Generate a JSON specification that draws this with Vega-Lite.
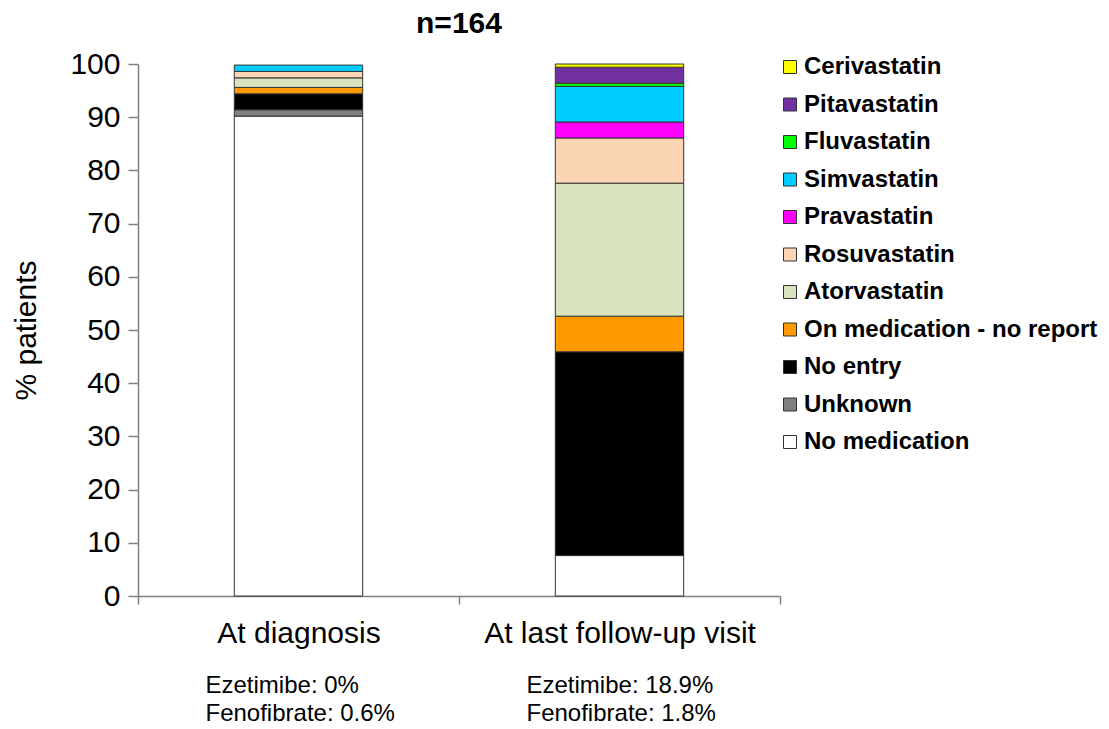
{
  "$schema": "https://vega.github.io/schema/vega-lite/v6.json",
  "autosize": "none",
  "width": 642,
  "height": 532,
  "padding": {"left": 138, "top": 64, "right": 329, "bottom": 133},
  "background": "white",
  "config": {
    "font": "Liberation Sans",
    "view": {"stroke": null}
  },
  "title": {
    "text": "n=164",
    "font": "Liberation Sans",
    "fontSize": 30,
    "fontWeight": "bold",
    "color": "black",
    "anchor": "middle",
    "offset": 10
  },
  "datasets": {
    "bars": [
      {"stage": "At diagnosis", "category": "No medication", "pct": 90.2},
      {"stage": "At diagnosis", "category": "Unknown", "pct": 1.2},
      {"stage": "At diagnosis", "category": "No entry", "pct": 3.0},
      {"stage": "At diagnosis", "category": "On medication - no report", "pct": 1.2},
      {"stage": "At diagnosis", "category": "Atorvastatin", "pct": 1.8},
      {"stage": "At diagnosis", "category": "Rosuvastatin", "pct": 1.2},
      {"stage": "At diagnosis", "category": "Simvastatin", "pct": 1.2},
      {"stage": "At last follow-up visit", "category": "No medication", "pct": 7.6},
      {"stage": "At last follow-up visit", "category": "No entry", "pct": 38.3},
      {"stage": "At last follow-up visit", "category": "On medication - no report", "pct": 6.7},
      {"stage": "At last follow-up visit", "category": "Atorvastatin", "pct": 25.0},
      {"stage": "At last follow-up visit", "category": "Rosuvastatin", "pct": 8.5},
      {"stage": "At last follow-up visit", "category": "Pravastatin", "pct": 3.0},
      {"stage": "At last follow-up visit", "category": "Simvastatin", "pct": 6.7},
      {"stage": "At last follow-up visit", "category": "Fluvastatin", "pct": 0.6},
      {"stage": "At last follow-up visit", "category": "Pitavastatin", "pct": 3.0},
      {"stage": "At last follow-up visit", "category": "Cerivastatin", "pct": 0.6}
    ],
    "notes": [
      {"stage": "At diagnosis", "note": ["Ezetimibe: 0%", "Fenofibrate: 0.6%"]},
      {"stage": "At last follow-up visit", "note": ["Ezetimibe: 18.9%", "Fenofibrate: 1.8%"]}
    ]
  },
  "layer": [
    {
      "data": {"name": "bars"},
      "transform": [
        {"calculate": "indexof(['No medication','Unknown','No entry','On medication - no report','Atorvastatin','Rosuvastatin','Pravastatin','Simvastatin','Fluvastatin','Pitavastatin','Cerivastatin'], datum.category)", "as": "stackOrder"}
      ],
      "mark": {"type": "bar", "stroke": "#333333", "strokeWidth": 1, "width": {"band": 0.4}},
      "encoding": {
        "x": {
          "field": "stage",
          "type": "nominal",
          "sort": ["At diagnosis", "At last follow-up visit"],
          "scale": {"paddingInner": 0, "paddingOuter": 0},
          "axis": {
            "title": null,
            "labelAngle": 0,
            "labelFont": "Liberation Sans",
            "labelFontSize": 30,
            "labelColor": "black",
            "labelLimit": 500,
            "labelPadding": 14,
            "domainColor": "#808080",
            "domainWidth": 1.5,
            "tickColor": "#808080",
            "tickWidth": 1.5,
            "tickSize": 8,
            "tickBand": "extent",
            "grid": false
          }
        },
        "y": {
          "field": "pct",
          "type": "quantitative",
          "stack": "zero",
          "scale": {"domain": [0, 100], "nice": false},
          "axis": {
            "title": "% patients",
            "titleFont": "Liberation Sans",
            "titleFontSize": 30,
            "titleFontWeight": "normal",
            "titleColor": "black",
            "titlePadding": 28,
            "values": [0, 10, 20, 30, 40, 50, 60, 70, 80, 90, 100],
            "labelFont": "Liberation Sans",
            "labelFontSize": 30,
            "labelColor": "black",
            "labelPadding": 8,
            "domainColor": "#808080",
            "domainWidth": 1.5,
            "tickColor": "#808080",
            "tickWidth": 1.5,
            "tickSize": 10,
            "grid": false
          }
        },
        "order": {"field": "stackOrder", "type": "quantitative", "sort": "ascending"},
        "color": {
          "field": "category",
          "type": "nominal",
          "scale": {
            "domain": ["Cerivastatin", "Pitavastatin", "Fluvastatin", "Simvastatin", "Pravastatin", "Rosuvastatin", "Atorvastatin", "On medication - no report", "No entry", "Unknown", "No medication"],
            "range": ["#FFFF00", "#7030A0", "#00FF00", "#00CCFF", "#FF00FF", "#FCD5B5", "#D7E4BD", "#FF9900", "#000000", "#808080", "#FFFFFF"]
          },
          "legend": {
            "title": null,
            "orient": "none",
            "legendX": 640,
            "legendY": -9,
            "symbolType": "square",
            "symbolSize": 169,
            "symbolStrokeColor": "#333333",
            "symbolStrokeWidth": 1,
            "labelFont": "Liberation Sans",
            "labelFontSize": 24,
            "labelFontWeight": "bold",
            "labelColor": "black",
            "labelLimit": 400,
            "labelOffset": 2,
            "rowPadding": 13.5
          }
        }
      }
    },
    {
      "data": {"name": "notes"},
      "mark": {
        "type": "text",
        "align": "left",
        "baseline": "alphabetic",
        "font": "Liberation Sans",
        "fontSize": 24,
        "color": "black",
        "lineHeight": 28,
        "dx": -93,
        "dy": 97
      },
      "encoding": {
        "x": {"field": "stage", "type": "nominal", "sort": ["At diagnosis", "At last follow-up visit"]},
        "y": {"value": {"expr": "height"}},
        "text": {"field": "note"}
      }
    }
  ]
}
